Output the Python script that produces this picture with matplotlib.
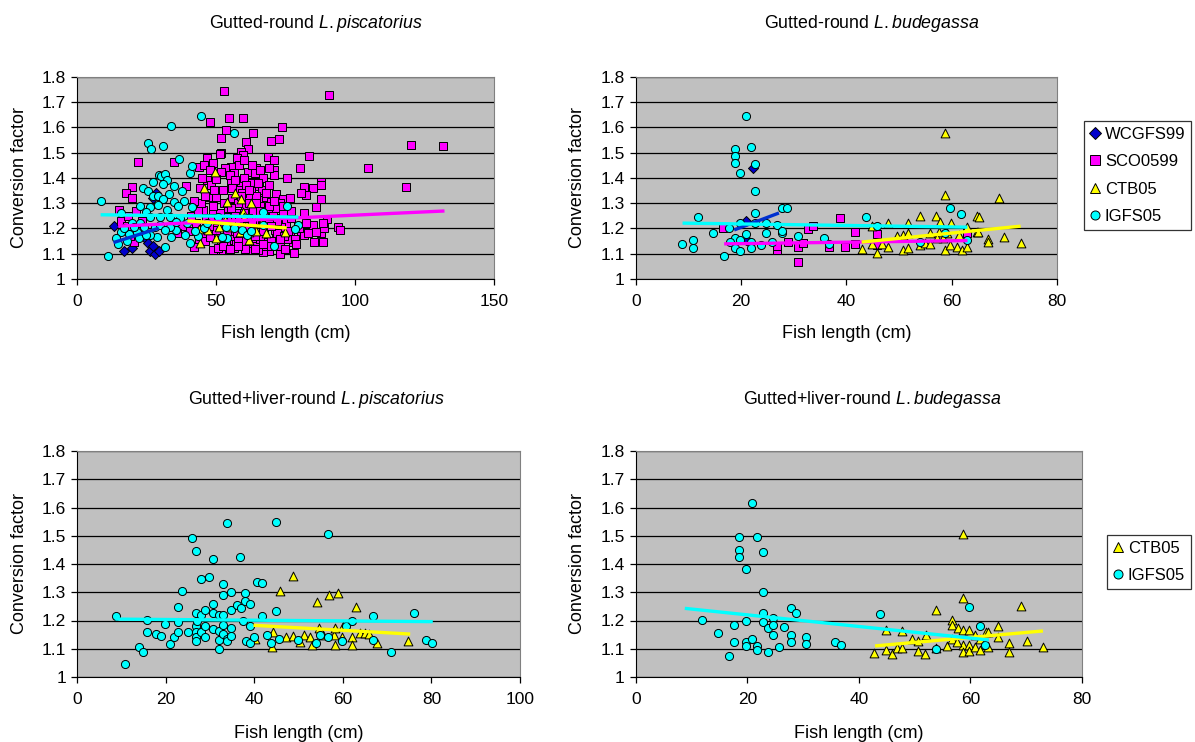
import matplotlib
matplotlib.use('Agg')
import matplotlib.pyplot as plt
from matplotlib.lines import Line2D

plt.rcParams['font.family'] = ['Liberation Sans', 'DejaVu Sans']
plt.rcParams['mathtext.fontset'] = 'custom'
plt.rcParams['mathtext.rm'] = 'Liberation Sans'
plt.rcParams['mathtext.it'] = 'Liberation Sans:italic'

# ---- data: Gutted-round L.piscatorius ----
p1_wcg_x = [13.5, 17.0, 19.9, 24.4, 25.8, 26.3, 27.5, 28.0, 29.5, 27.4, 28.5]
p1_wcg_y = [1.21, 1.111, 1.123, 1.161, 1.141, 1.112, 1.13, 1.10, 1.112, 1.32, 1.34]

p1_sco_x = [52.9, 90.8, 54.7, 59.6, 53.8, 52.0, 63.5, 73.7, 69.9, 72.8, 60.7, 61.5, 52.0, 58.9, 59.7, 57.7,
            68.7, 70.8, 83.4, 80.4, 58.5, 55.6, 53.2, 64.5, 61.5, 70.8, 70.8, 75.6, 87.8, 87.8, 81.6, 84.8,
            82.4, 87.8, 80.6, 86.0, 81.8, 90.0, 93.8, 94.7, 84.8, 87.8, 86.0, 80.6, 81.8, 85.4, 88.4, 77.6,
            78.2, 72.9, 69.3, 66.9, 62.1, 56.7, 52.0, 49.6, 71.7, 74.1, 76.5, 56.7, 51.7, 55.6, 59.1, 62.7,
            65.7, 67.5, 69.9, 72.9, 65.7, 63.9, 59.7, 56.7, 53.8, 50.8, 54.3, 57.9, 61.5, 65.1, 68.7, 72.3,
            75.3, 71.7, 68.1, 64.5, 61.5, 57.3, 54.3, 51.4, 50.2, 54.9, 67.5, 73.5, 76.5, 65.1, 59.1, 52.0,
            71.1, 48.0, 21.9, 34.9, 47.0, 43.9, 45.7, 49.0, 39.4, 44.4, 46.8, 48.4, 50.2, 51.4, 19.7, 17.9,
            19.9, 15.1, 16.1, 21.5, 20.7, 43.8, 42.0, 46.0, 49.0, 50.8, 47.8, 50.2, 46.6, 45.4, 49.0, 47.2,
            50.2, 44.8, 104.8, 120.3, 131.6, 118.4, 21.2, 21.0, 58.0, 60.5, 62.5, 66.0, 63.0, 60.0, 57.5,
            55.5, 53.0, 58.5, 60.0, 63.0, 66.5, 64.0, 67.0, 69.0, 71.5, 74.0, 77.0, 79.5, 76.0, 73.0, 70.0,
            67.5, 64.0, 61.0, 58.0, 55.0, 53.0, 56.0, 58.0, 62.0, 64.5, 47.5, 45.0, 43.0, 41.0, 48.5, 51.5,
            52.5, 55.0, 57.0, 61.0, 59.5, 63.5, 67.0, 69.0, 72.0, 74.5, 66.0, 62.0, 59.0, 56.0, 53.5, 60.5,
            68.0, 75.0, 78.5, 80.0, 82.5, 83.0, 89.0, 88.5, 18.5, 18.0, 22.0, 19.0, 23.5, 40.5, 43.5, 38.0,
            36.0, 45.0, 46.0, 42.0, 48.0, 49.5, 49.0,
            55.5, 57.0, 58.5, 60.0, 61.5, 63.0, 64.5, 66.0, 67.5, 69.0, 70.5, 72.0, 56.0, 59.0, 62.0, 65.0,
            68.0, 71.0, 74.0, 77.0, 54.0, 57.5, 61.0, 64.0, 67.0, 70.0, 73.0, 76.0, 79.0, 52.5, 55.0, 58.0,
            61.0, 64.0, 67.0, 70.0, 60.0, 63.0, 66.0, 69.0]
p1_sco_y = [1.744, 1.728, 1.638, 1.638, 1.589, 1.556, 1.576, 1.600, 1.547, 1.552, 1.540, 1.514, 1.499, 1.503,
            1.490, 1.477, 1.483, 1.470, 1.486, 1.440, 1.451, 1.444, 1.438, 1.440, 1.424, 1.431, 1.411, 1.400,
            1.385, 1.372, 1.362, 1.358, 1.332, 1.316, 1.340, 1.283, 1.260, 1.236, 1.207, 1.194, 1.213, 1.181,
            1.187, 1.181, 1.174, 1.147, 1.147, 1.147, 1.104, 1.098, 1.111, 1.108, 1.115, 1.121, 1.115, 1.115,
            1.336, 1.315, 1.319, 1.418, 1.425, 1.378, 1.385, 1.358, 1.367, 1.325, 1.306, 1.300, 1.266, 1.233,
            1.227, 1.246, 1.246, 1.227, 1.279, 1.319, 1.332, 1.312, 1.273, 1.240, 1.220, 1.167, 1.147, 1.161,
            1.141, 1.141, 1.154, 1.167, 1.200, 1.194, 1.207, 1.207, 1.181, 1.115, 1.134, 1.141, 1.194, 1.622,
            1.461, 1.461, 1.477, 1.444, 1.450, 1.457, 1.368, 1.358, 1.390, 1.371, 1.397, 1.494, 1.365, 1.339,
            1.319, 1.273, 1.229, 1.210, 1.147, 1.141, 1.125, 1.149, 1.115, 1.121, 1.167, 1.194, 1.233, 1.273,
            1.273, 1.325, 1.325, 1.299, 1.439, 1.529, 1.525, 1.362, 1.269, 1.178, 1.26, 1.29, 1.25, 1.29,
            1.20, 1.17, 1.20, 1.23, 1.21, 1.35, 1.40, 1.38, 1.35, 1.42, 1.40, 1.37, 1.28, 1.26, 1.24, 1.21,
            1.16, 1.13, 1.15, 1.18, 1.13, 1.22, 1.16, 1.17, 1.30, 1.32, 1.30, 1.30, 1.33, 1.21, 1.18, 1.22,
            1.25, 1.24, 1.26, 1.35, 1.41, 1.39, 1.37, 1.34, 1.27, 1.24, 1.22, 1.18, 1.17, 1.16, 1.18, 1.21,
            1.19, 1.14, 1.12, 1.13, 1.12, 1.16, 1.20, 1.22, 1.18, 1.20, 1.22, 1.25, 1.21, 1.19, 1.17, 1.23,
            1.19, 1.27, 1.21, 1.18, 1.40, 1.33, 1.31, 1.43, 1.35, 1.29,
            1.28, 1.25, 1.23, 1.26, 1.24, 1.22, 1.30, 1.27, 1.25, 1.29, 1.25, 1.23, 1.36, 1.33, 1.35, 1.38,
            1.34, 1.31, 1.29, 1.27, 1.19, 1.18, 1.20, 1.17, 1.19, 1.21, 1.16, 1.19, 1.14, 1.13, 1.12, 1.13,
            1.15, 1.12, 1.14, 1.13, 1.47, 1.45, 1.43, 1.44]

p1_ctb_x = [57.0, 54.1, 58.9, 62.7, 59.7, 49.6, 45.7, 51.0, 55.0, 58.6, 62.1, 64.4, 68.1, 74.7, 50.2,
            61.8, 53.2, 60.3, 66.3, 44.2, 47.2, 43.9]
p1_ctb_y = [1.341, 1.306, 1.315, 1.299, 1.266, 1.424, 1.358, 1.207, 1.207, 1.187, 1.187, 1.19, 1.183,
            1.185, 1.163, 1.154, 1.233, 1.246, 1.22, 1.141, 1.194, 1.196]

p1_igfs_x = [8.7, 11.1, 33.8, 44.6, 25.7, 26.6, 31.2, 36.8, 40.9, 41.6, 29.6, 30.4, 31.8, 32.6, 27.5, 31.0,
             35.0, 23.7, 25.8, 27.5, 38.0, 33.0, 29.2, 31.0, 34.9, 38.7, 36.4, 41.6, 22.7, 26.5, 29.2, 32.5,
             24.8, 15.9, 19.7, 22.7, 26.3, 29.8, 33.4, 37.0, 24.1, 15.9, 18.9, 21.5, 14.0, 14.9, 29.0, 31.9,
             34.0, 35.8, 38.8, 43.6, 40.6, 26.3, 28.1, 33.4, 35.6, 29.8, 31.6, 22.4, 24.8, 20.5, 56.7, 75.6,
             66.9, 50.8, 53.8, 56.5, 59.4, 61.3, 54.1, 52.2, 79.4, 78.5, 70.8, 62.5, 66.9, 45.7, 42.4, 47.0,
             39.5, 17.0, 18.0]
p1_igfs_y = [1.309, 1.091, 1.605, 1.644, 1.536, 1.514, 1.526, 1.476, 1.418, 1.447, 1.412, 1.409, 1.414, 1.39,
             1.383, 1.374, 1.369, 1.36, 1.349, 1.33, 1.349, 1.336, 1.328, 1.315, 1.306, 1.309, 1.289, 1.286,
             1.289, 1.286, 1.292, 1.273, 1.266, 1.262, 1.223, 1.22, 1.246, 1.246, 1.246, 1.24, 1.204, 1.185,
             1.178, 1.187, 1.161, 1.138, 1.167, 1.128, 1.167, 1.194, 1.174, 1.171, 1.141, 1.174, 1.207, 1.207,
             1.226, 1.213, 1.194, 1.161, 1.174, 1.207, 1.578, 1.289, 1.266, 1.246, 1.207, 1.203, 1.194, 1.174,
             1.161, 1.167, 1.213, 1.198, 1.13, 1.19, 1.213, 1.2, 1.19, 1.22, 1.22, 1.2, 1.15]

p1_trend_x = {'WCGFS99': [13.2, 29.5], 'SCO0599': [14.9, 132.2], 'CTB05': [39.8, 75.5], 'IGFS05': [8.6, 79.7]}
p1_trend_y = {'WCGFS99': [1.144, 1.201], 'SCO0599': [1.209, 1.269], 'CTB05': [1.23, 1.202], 'IGFS05': [1.254, 1.245]}

# ---- data: Gutted-round L.budegassa ----
p2_wcg_x = [22.2, 20.9, 21.6, 21.0]
p2_wcg_y = [1.438, 1.229, 1.146, 1.154]

p2_sco_x = [16.6, 26.8, 26.8, 28.9, 30.9, 30.9, 31.7, 32.8, 33.7, 36.8, 38.8, 39.7, 41.6, 41.6, 45.8, 45.8, 62.9]
p2_sco_y = [1.2, 1.115, 1.13, 1.145, 1.068, 1.128, 1.141, 1.196, 1.209, 1.128, 1.242, 1.128, 1.187, 1.138,
            1.177, 1.134, 1.18]

p2_ctb_x = [58.7, 58.7, 64.9, 53.9, 57.0, 57.8, 59.9, 48.0, 44.8, 51.8, 50.8, 49.6, 51.8, 55.9, 57.5, 59.1,
            61.3, 62.9, 64.8, 42.9, 45.9, 44.8, 46.7, 48.0, 50.8, 51.8, 54.0, 54.9, 55.9, 58.7, 59.7, 61.0,
            61.9, 62.9, 58.4, 57.2, 65.2, 65.0, 66.9, 66.9, 69.0, 70.0, 73.1]
p2_ctb_y = [1.576, 1.332, 1.25, 1.25, 1.25, 1.226, 1.22, 1.22, 1.21, 1.22, 1.174, 1.17, 1.18, 1.18, 1.187,
            1.18, 1.174, 1.207, 1.187, 1.117, 1.104, 1.138, 1.138, 1.128, 1.115, 1.121, 1.134, 1.144, 1.138,
            1.115, 1.134, 1.128, 1.115, 1.128, 1.161, 1.161, 1.247, 1.185, 1.159, 1.146, 1.32, 1.165, 1.143]

p2_igfs_x = [8.7, 10.8, 10.8, 11.9, 14.6, 16.7, 17.8, 18.9, 18.9, 18.9, 19.8, 20.9, 21.8, 22.7, 22.7, 22.7,
             27.7, 28.8, 19.8, 18.9, 17.9, 18.9, 19.8, 19.8, 20.9, 21.8, 21.8, 22.7, 23.7, 24.7, 24.7, 25.8,
             26.8, 27.7, 27.7, 30.9, 35.8, 36.8, 43.7, 45.8, 53.9, 59.7, 61.7, 62.9, 58.7]
p2_igfs_y = [1.138, 1.154, 1.121, 1.246, 1.181, 1.091, 1.2, 1.514, 1.486, 1.46, 1.418, 1.644, 1.521, 1.455,
             1.349, 1.262, 1.279, 1.279, 1.22, 1.161, 1.148, 1.121, 1.154, 1.112, 1.177, 1.148, 1.121, 1.22,
             1.135, 1.181, 1.222, 1.145, 1.213, 1.183, 1.191, 1.171, 1.161, 1.138, 1.246, 1.209, 1.148, 1.279,
             1.257, 1.154, 1.18]

p2_trend_x = {'WCGFS99': [18.7, 27.2], 'SCO0599': [16.8, 63.0], 'CTB05': [42.9, 73.1], 'IGFS05': [8.9, 63.0]}
p2_trend_y = {'WCGFS99': [1.194, 1.261], 'SCO0599': [1.139, 1.152], 'CTB05': [1.146, 1.209], 'IGFS05': [1.221, 1.205]}

# ---- data: Gutted+liver-round L.piscatorius ----
p3_ctb_x = [45.8, 44.2, 43.9, 40.2, 47.2, 48.8, 54.1, 56.9, 59.0, 63.0, 48.8, 51.1, 52.6, 55.6, 57.9, 59.8,
            62.0, 63.9, 65.0, 65.9, 50.2, 53.0, 58.1, 62.0, 67.8, 74.8, 58.1, 54.5, 60.1]
p3_ctb_y = [1.304, 1.16, 1.107, 1.134, 1.143, 1.359, 1.267, 1.29, 1.296, 1.247, 1.146, 1.148, 1.142, 1.15,
            1.15, 1.142, 1.142, 1.154, 1.154, 1.151, 1.124, 1.115, 1.113, 1.113, 1.122, 1.127, 1.175, 1.173, 1.182]

p3_igfs_x = [8.7, 10.8, 13.9, 14.8, 15.8, 15.8, 17.8, 18.8, 19.7, 20.9, 21.9, 22.7, 22.7, 22.7, 23.7, 24.9,
             25.8, 26.8, 26.8, 26.8, 26.8, 26.8, 26.8, 27.0, 28.0, 28.0, 28.0, 28.9, 28.9, 28.9, 29.8, 30.7,
             30.7, 30.7, 30.7, 32.0, 32.0, 32.0, 32.0, 32.9, 32.9, 32.9, 32.9, 32.9, 33.8, 33.8, 33.8, 34.7,
             34.7, 34.7, 34.7, 36.0, 36.8, 36.9, 37.4, 37.8, 37.8, 38.0, 39.0, 39.0, 39.0, 39.9, 40.7, 41.7,
             41.7, 42.9, 43.8, 44.8, 44.8, 45.6, 56.7, 49.9, 53.9, 54.8, 56.7, 59.8, 60.7, 62.0, 66.9, 66.9,
             70.8, 76.1, 78.7, 80.1]
p3_igfs_y = [1.217, 1.046, 1.107, 1.087, 1.202, 1.16, 1.151, 1.146, 1.188, 1.117, 1.14, 1.16, 1.193, 1.247,
             1.304, 1.16, 1.491, 1.447, 1.228, 1.182, 1.16, 1.142, 1.127, 1.2, 1.347, 1.219, 1.16, 1.237, 1.182,
             1.14, 1.355, 1.418, 1.26, 1.225, 1.17, 1.221, 1.162, 1.131, 1.099, 1.328, 1.29, 1.221, 1.183,
             1.153, 1.544, 1.136, 1.127, 1.172, 1.146, 1.3, 1.237, 1.256, 1.424, 1.243, 1.198, 1.298, 1.269,
             1.128, 1.26, 1.182, 1.119, 1.14, 1.337, 1.331, 1.217, 1.15, 1.12, 1.55, 1.235, 1.136, 1.506,
             1.131, 1.121, 1.148, 1.14, 1.128, 1.182, 1.2, 1.217, 1.131, 1.087, 1.228, 1.131, 1.121]

p3_trend_x = {'CTB05': [39.8, 75.2], 'IGFS05': [8.6, 80.3]}
p3_trend_y = {'CTB05': [1.183, 1.152], 'IGFS05': [1.205, 1.196]}

# ---- data: Gutted+liver-round L.budegassa ----
p4_ctb_x = [58.6, 58.6, 53.8, 44.9, 47.8, 52.0, 42.7, 44.8, 45.9, 46.9, 47.8, 49.6, 50.6, 50.6, 51.8, 53.8,
            55.8, 56.7, 56.7, 57.8, 58.6, 59.8, 60.9, 61.8, 62.8, 58.6, 58.6, 59.8, 59.8, 60.9, 61.8, 56.7,
            57.6, 65.0, 65.0, 66.9, 66.9, 69.1, 70.1, 73.0, 63.1, 63.1]
p4_ctb_y = [1.505, 1.279, 1.236, 1.166, 1.162, 1.15, 1.084, 1.097, 1.082, 1.101, 1.101, 1.133, 1.127, 1.093,
            1.082, 1.103, 1.109, 1.203, 1.185, 1.175, 1.166, 1.166, 1.149, 1.134, 1.161, 1.115, 1.089, 1.115,
            1.091, 1.107, 1.095, 1.136, 1.124, 1.18, 1.143, 1.119, 1.087, 1.252, 1.128, 1.107, 1.16, 1.105]

p4_igfs_x = [11.9, 14.8, 16.7, 17.6, 17.6, 18.6, 18.6, 18.6, 19.8, 19.8, 19.8, 19.8, 20.8, 20.8, 21.8, 21.8,
             21.8, 22.8, 22.8, 22.8, 22.8, 23.7, 23.7, 24.7, 24.7, 24.7, 25.6, 26.5, 27.9, 27.9, 27.9, 28.8,
             30.6, 30.6, 35.8, 36.8, 43.8, 53.8, 59.7, 61.7, 62.7]
p4_igfs_y = [1.203, 1.155, 1.073, 1.184, 1.125, 1.496, 1.449, 1.424, 1.381, 1.198, 1.123, 1.108, 1.616, 1.134,
             1.496, 1.111, 1.097, 1.444, 1.3, 1.227, 1.193, 1.174, 1.087, 1.21, 1.184, 1.149, 1.107, 1.177,
             1.245, 1.149, 1.125, 1.227, 1.143, 1.117, 1.123, 1.113, 1.223, 1.1, 1.247, 1.181, 1.114]

p4_trend_x = {'CTB05': [42.9, 73.0], 'IGFS05': [8.8, 63.3]}
p4_trend_y = {'CTB05': [1.11, 1.163], 'IGFS05': [1.243, 1.131]}

# ---- styles (Excel-like) ----
markers = {'WCGFS99': dict(marker='D', color='#0000CC', s=26),
           'SCO0599': dict(marker='s', color='#FF00FF', s=36),
           'CTB05': dict(marker='^', color='#FFFF00', s=40),
           'IGFS05': dict(marker='o', color='#00FFFF', s=34)}
line_colors = {'WCGFS99': '#0030D0', 'SCO0599': '#FF00FF', 'CTB05': '#FFFF00', 'IGFS05': '#00FFFF'}

W, H = 1195, 742
fig = plt.figure(figsize=(W / 100, H / 100), dpi=100)


def px_axes(left, top, right, bottom):
    return fig.add_axes([left / W, 1 - bottom / H, (right - left) / W, (bottom - top) / H])


def draw_panel(ax, series, tx, ty, xmax, xstep):
    ax.set_facecolor('#C0C0C0')
    for name, xs, ys in series:
        st = markers[name]
        ax.scatter(xs, ys, marker=st['marker'], s=st['s'], facecolor=st['color'],
                   edgecolor='black', linewidth=0.7, zorder=3)
    for name, _, _ in series:
        ax.plot(tx[name], ty[name], color=line_colors[name], lw=2.4, zorder=4,
                solid_capstyle='butt')
    ax.set_xlim(0, xmax)
    ax.set_ylim(1, 1.8)
    ax.set_xticks(range(0, xmax + 1, xstep))
    yt = [1 + i / 10 for i in range(9)]
    ax.set_yticks(yt)
    ax.set_yticklabels(['%g' % round(v, 1) for v in yt])
    ax.grid(axis='y', color='black', lw=0.9)
    ax.set_axisbelow(True)
    for s in ['top', 'right']:
        ax.spines[s].set_color('#808080')
    for s in ['left', 'bottom']:
        ax.spines[s].set_color('black')
    ax.tick_params(direction='out', length=4, width=0.9, labelsize=12.5, pad=4)
    ax.tick_params(axis='x', pad=7)


def label_panel(left, right, top, bottom, title, species, ylab_x, xlab_y, title_x, title_y):
    fig.text(title_x / W, 1 - title_y / H, title + ' $\\mathit{' + species + '}$',
             ha='center', va='center', fontsize=12.8)
    fig.text(ylab_x / W, 1 - (top + bottom) / 2 / H, 'Conversion factor', rotation=90,
             ha='center', va='center', fontsize=13)
    fig.text((left + right) / 2 / W, 1 - xlab_y / H, 'Fish length (cm)',
             ha='center', va='center', fontsize=13)


ax1 = px_axes(76.7, 76.7, 494, 279)
draw_panel(ax1, [('WCGFS99', p1_wcg_x, p1_wcg_y), ('SCO0599', p1_sco_x, p1_sco_y),
                 ('CTB05', p1_ctb_x, p1_ctb_y), ('IGFS05', p1_igfs_x, p1_igfs_y)],
           p1_trend_x, p1_trend_y, 150, 50)
label_panel(76.7, 494, 76.7, 279, 'Gutted-round', 'L.piscatorius', 20, 333, 316, 24)

ax2 = px_axes(635.7, 76.7, 1057, 279)
draw_panel(ax2, [('WCGFS99', p2_wcg_x, p2_wcg_y), ('SCO0599', p2_sco_x, p2_sco_y),
                 ('CTB05', p2_ctb_x, p2_ctb_y), ('IGFS05', p2_igfs_x, p2_igfs_y)],
           p2_trend_x, p2_trend_y, 80, 20)
label_panel(635.7, 1057, 76.7, 279, 'Gutted-round', 'L.budegassa', 578, 333, 872, 24)

ax3 = px_axes(77.3, 451, 520, 677)
draw_panel(ax3, [('CTB05', p3_ctb_x, p3_ctb_y), ('IGFS05', p3_igfs_x, p3_igfs_y)],
           p3_trend_x, p3_trend_y, 100, 20)
label_panel(77.3, 520, 451, 677, 'Gutted+liver-round', 'L.piscatorius', 20, 733, 316, 399)

ax4 = px_axes(635.7, 451, 1082, 677)
draw_panel(ax4, [('CTB05', p4_ctb_x, p4_ctb_y), ('IGFS05', p4_igfs_x, p4_igfs_y)],
           p4_trend_x, p4_trend_y, 80, 20)
label_panel(635.7, 1082, 451, 677, 'Gutted+liver-round', 'L.budegassa', 578, 733, 872, 399)


def add_legend(names, left, top):
    handles = [Line2D([], [], ls='none', marker=markers[n]['marker'], markersize=6.5,
                      markerfacecolor=markers[n]['color'], markeredgecolor='black',
                      markeredgewidth=0.7) for n in names]
    leg = fig.legend(handles, names, loc='upper left', bbox_to_anchor=(left / W, 1 - top / H),
                     borderaxespad=0, frameon=True, fancybox=False, fontsize=12,
                     handlelength=0.6, handletextpad=0.3, labelspacing=0.75, borderpad=0.35)
    leg.get_frame().set_edgecolor('black')
    leg.get_frame().set_linewidth(0.9)


add_legend(['WCGFS99', 'SCO0599', 'CTB05', 'IGFS05'], 1084, 121)
add_legend(['CTB05', 'IGFS05'], 1107, 535)

fig.savefig('out.png', dpi=100)
